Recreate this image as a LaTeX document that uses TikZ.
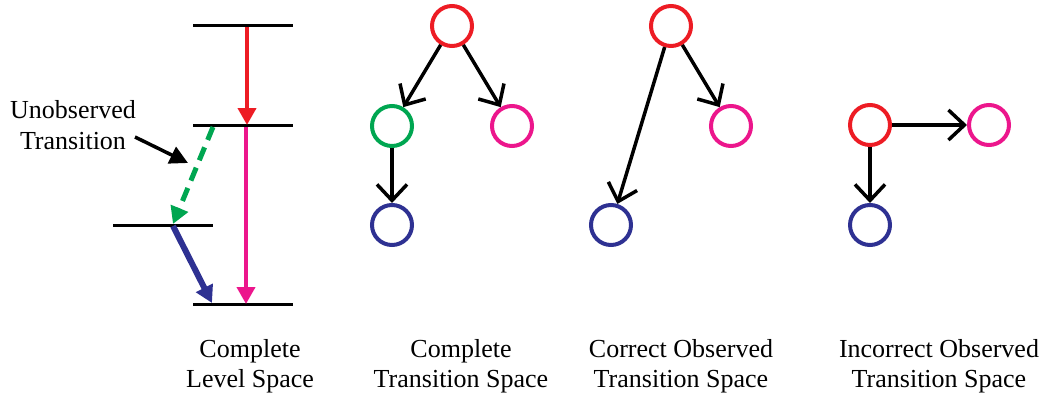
\documentclass[tikz,border=0pt]{standalone}
\usepackage{fontspec}
\setmainfont{Liberation Serif}
\usetikzlibrary{arrows.meta}
\definecolor{cred}{HTML}{ED1C24}
\definecolor{cmag}{HTML}{EC168C}
\definecolor{cgreen}{HTML}{00A651}
\definecolor{cblue}{HTML}{2E3192}
\tikzset{
  level/.style={line width=3pt},
  state/.style={circle, draw, line width=4pt, minimum size=40pt, inner sep=0pt},
  edge/.style={line width=3.5pt, black, -{Straight Barb[length=16pt,width=30pt,line join=miter]}},
  tip/.style={-{Triangle[length=17pt,width=18pt]}},
  trans/.style={line width=4pt, tip},
  caption/.style={align=center, font=\fontsize{26}{30}\selectfont, inner sep=0pt}
}
\begin{document}
\begin{tikzpicture}[x=1pt,y=-1pt]
\useasboundingbox (0,0) rectangle (1047,397);

% ---- energy level diagram ----
\coordinate (L1a) at (193,25);  \coordinate (L1b) at (293,25);
\coordinate (L2a) at (193,125); \coordinate (L2b) at (293,125);
\coordinate (L3a) at (113,225); \coordinate (L3b) at (213,225);
\coordinate (L4a) at (193,304); \coordinate (L4b) at (293,304);
\draw[level] (L1a) -- (L1b);
\draw[level] (L2a) -- (L2b);
\draw[level] (L3a) -- (L3b);
\draw[level] (L4a) -- (L4b);

\coordinate (r1) at (247,27);  \coordinate (r2) at (247,125);
\coordinate (m1) at (246,127); \coordinate (m2) at (246,304);
\coordinate (g1) at (213,127); \coordinate (g2) at (173,224);
\coordinate (b1) at (173,226); \coordinate (b2) at (212,303);
\draw[trans, cred] (r1) -- (r2);
\draw[trans, cmag] (m1) -- (m2);
\draw[cgreen, line width=5pt, dash pattern=on 14pt off 8pt, tip] (g1) -- (g2);
\draw[cblue, line width=6pt, tip] (b1) -- (b2);

\node[caption, font=\fontsize{26}{31}\selectfont] (unobs) at (73,125) {Unobserved\\Transition};
\coordinate (u1) at (135,137);
\coordinate (u2) at (188,163);
\draw[line width=3.5pt, -{Triangle[length=18pt,width=18pt]}] (u1) -- (u2);

% ---- complete transition space ----
\node[state, cred]   (a1) at (452,26)  {};
\node[state, cgreen] (a2) at (392,126) {};
\node[state, cmag]   (a3) at (512,126) {};
\node[state, cblue]  (a4) at (392,225) {};
\draw[edge] (a1) -- (a2);
\draw[edge] (a1) -- (a3);
\draw[edge] (a2) -- (a4);

% ---- correct observed transition space ----
\node[state, cred]   (c1) at (671,26)  {};
\node[state, cmag]   (c3) at (731,126) {};
\node[state, cblue]  (c4) at (611,225) {};
\draw[edge] (c1) -- (c3);
\draw[edge] (c1) -- (c4);

% ---- incorrect observed transition space ----
\node[state, cred]   (i1) at (870,125) {};
\node[state, cmag]   (i3) at (989,125) {};
\node[state, cblue]  (i4) at (870,225) {};
\draw[edge] (i1) -- (i3);
\draw[edge] (i1) -- (i4);

% ---- captions ----
\node[caption] (t1) at (250,366) {Complete\\Level Space};
\node[caption] (t2) at (461,366) {Complete\\Transition Space};
\node[caption] (t3) at (681,366) {Correct Observed\\Transition Space};
\node[caption] (t4) at (939,366) {Incorrect Observed\\Transition Space};
\end{tikzpicture}
\end{document}
